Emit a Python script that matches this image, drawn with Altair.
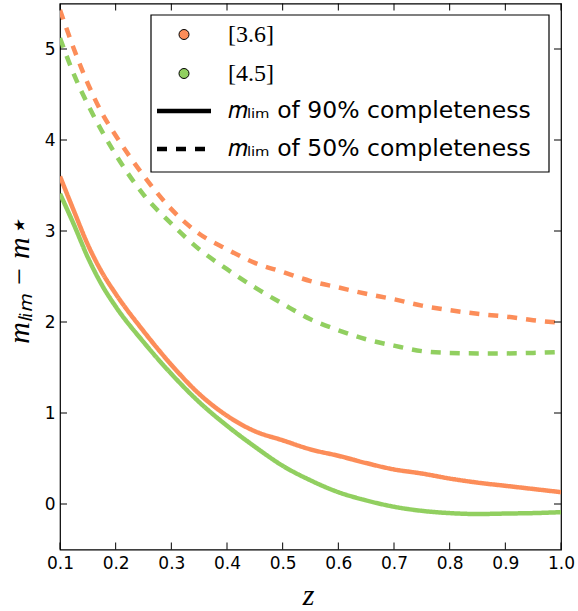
import altair as alt
import pandas as pd

# redshift grid
z = [0.1, 0.125, 0.15, 0.175, 0.2, 0.25, 0.3, 0.35, 0.4, 0.45, 0.5, 0.55,
     0.6, 0.65, 0.7, 0.75, 0.8, 0.85, 0.9, 0.95, 1.0]
# m_lim - m* curves
ch1_90 = [3.60, 3.22, 2.85, 2.55, 2.31, 1.90, 1.53, 1.21, 0.97, 0.80, 0.70, 0.60,
          0.53, 0.45, 0.38, 0.335, 0.28, 0.235, 0.20, 0.165, 0.13]
ch2_90 = [3.41, 3.07, 2.71, 2.41, 2.17, 1.78, 1.43, 1.12, 0.86, 0.63, 0.42, 0.26,
          0.13, 0.04, -0.03, -0.075, -0.10, -0.11, -0.105, -0.10, -0.09]
ch1_50 = [5.43, 5.00, 4.62, 4.30, 4.05, 3.61, 3.24, 2.97, 2.80, 2.65, 2.55, 2.45,
          2.38, 2.31, 2.25, 2.18, 2.13, 2.09, 2.06, 2.02, 1.99]
ch2_50 = [5.12, 4.72, 4.39, 4.10, 3.84, 3.40, 3.08, 2.80, 2.58, 2.38, 2.20, 2.03,
          1.91, 1.81, 1.74, 1.68, 1.66, 1.655, 1.655, 1.66, 1.67]

bands = ["3.6", "4.5"]
band_labels = ["[3.6]", "[4.5]"]
comps = ["𝑚ₗᵢₘ of 90% completeness", "𝑚ₗᵢₘ of 50% completeness"]
colors = ["#fc8d59", "#91cf60"]

xticks = [0.1, 0.2, 0.3, 0.4, 0.5, 0.6, 0.7, 0.8, 0.9, 1.0]
yticks = [0, 1, 2, 3, 4, 5]

rows = []
for band, comp, vals in [(bands[0], comps[0], ch1_90), (bands[1], comps[0], ch2_90),
                         (bands[0], comps[1], ch1_50), (bands[1], comps[1], ch2_50)]:
    for zz, v in zip(z, vals):
        rows.append({"z": zz, "band": band, "comp": comp, "value": v})
df = pd.DataFrame(rows)

W, H = 501, 546

xenc = alt.X("z:Q", scale=alt.Scale(domain=[0.1, 1.0], nice=False, zero=False),
             axis=alt.Axis(values=xticks, format=".1f", ticks=False, domain=False, grid=False,
                           labelFont="DejaVu Sans", labelFontSize=17, labelColor="black",
                           labelPadding=6, labelFlush=False, labelOverlap=False,
                           title="z", titleFont="Liberation Serif", titleFontStyle="italic",
                           titleFontWeight="normal", titleFontSize=30, titleColor="black",
                           titleX=248, titleY=46, titleBaseline="middle", titleAlign="center"))
yenc = alt.Y("value:Q", scale=alt.Scale(domain=[-0.5, 5.5], nice=False, zero=False),
             axis=alt.Axis(values=yticks, format="d", ticks=False, domain=False, grid=False,
                           labelFont="DejaVu Sans", labelFontSize=17, labelColor="black",
                           labelPadding=5, labelFlush=False, labelOverlap=False,
                           title="mₗᵢₘ − m⋆", titleFont="Liberation Serif", titleFontStyle="italic",
                           titleFontWeight="normal", titleFontSize=30, titleColor="black",
                           titleX=-41, titleY=277, titleAngle=270, titleBaseline="middle",
                           titleAlign="center"))

lines = alt.Chart(df).mark_line(strokeWidth=4.5, interpolate="monotone", clip=True).encode(
    x=xenc, y=yenc,
    color=alt.Color("band:N", scale=alt.Scale(domain=bands, range=colors), legend=None),
    strokeDash=alt.StrokeDash(
        "comp:N", scale=alt.Scale(domain=comps, range=[[1, 0], [10, 9]]),
        legend=alt.Legend(title=None, orient="none", legendX=94.5, legendY=96,
                          symbolType="stroke", symbolSize=2916, symbolStrokeColor="black",
                          symbolStrokeWidth=4.5, labelFont="DejaVu Sans", labelFontSize=23.5,
                          labelColor="black", labelOffset=14.5, rowPadding=14, padding=0,
                          clipHeight=23, labelLimit=400)),
)

legend_df = pd.DataFrame({"channel": band_labels})
points = alt.Chart(legend_df).transform_filter("false").mark_point(filled=True, opacity=1).encode(
    fill=alt.Fill("channel:N", scale=alt.Scale(domain=band_labels, range=colors),
                  legend=alt.Legend(title=None, orient="none", legendX=112, legendY=19.5,
                                    symbolType="circle", symbolSize=100,
                                    symbolStrokeColor="black", symbolStrokeWidth=1,
                                    labelFont="Liberation Serif", labelFontSize=24,
                                    labelColor="black", labelOffset=32, rowPadding=14,
                                    clipHeight=23, padding=0)),
)

xt = pd.DataFrame({"z": xticks})
yt = pd.DataFrame({"value": yticks})
tick_x_bot = alt.Chart(xt).mark_rule(color="black", strokeWidth=1).encode(
    x=xenc, y=alt.value(H), y2=alt.value(H - 7))
tick_x_top = alt.Chart(xt).mark_rule(color="black", strokeWidth=1).encode(
    x=xenc, y=alt.value(0), y2=alt.value(7))
tick_y_left = alt.Chart(yt).mark_rule(color="black", strokeWidth=1).encode(
    y=yenc, x=alt.value(0), x2=alt.value(7))
tick_y_right = alt.Chart(yt).mark_rule(color="black", strokeWidth=1).encode(
    y=yenc, x=alt.value(W - 7), x2=alt.value(W))

box = alt.Chart(pd.DataFrame({"a": [0]})).mark_rect(
    fill="white", stroke="black", strokeWidth=1.2).encode(
    x=alt.value(91), x2=alt.value(489), y=alt.value(11.5), y2=alt.value(168.5))

chart = alt.layer(lines, points, tick_x_bot, tick_x_top, tick_y_left, tick_y_right, box).properties(
    width=W, height=H,
    autosize=alt.AutoSizeParams(type="none"),
    padding={"left": 60, "top": 3.5, "right": 17, "bottom": 61.5},
    background="white",
).configure_view(stroke="black", strokeWidth=1.2)

chart.save("out.html", embed_options={"renderer": "svg", "actions": False})
